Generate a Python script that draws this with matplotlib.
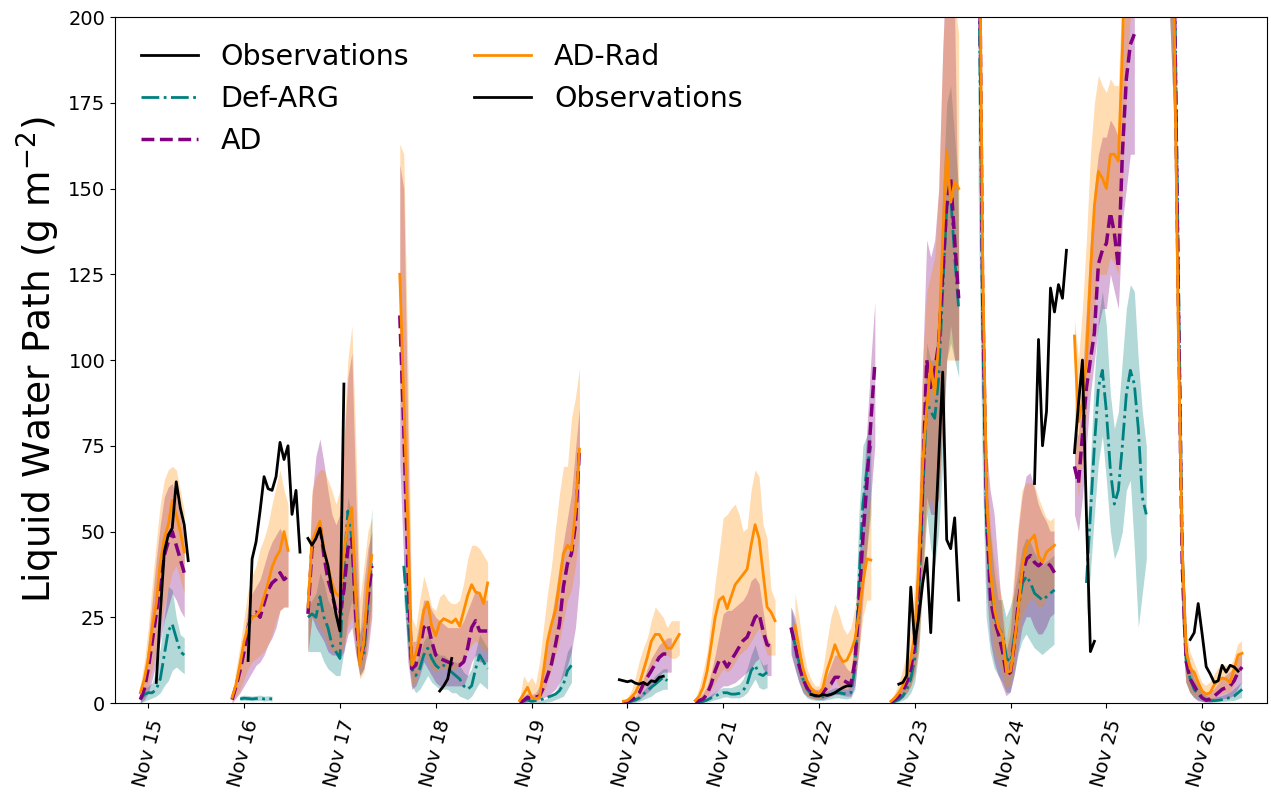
import numpy as np
import matplotlib
matplotlib.use("Agg")
import matplotlib.pyplot as plt
import matplotlib.dates as mdates
from matplotlib.lines import Line2D

# Forecast days (November), one block of hourly values per day
days = [15, 16, 17, 18, 19, 20, 21, 22, 23, 24, 25, 26]

# AD-Rad: start hour (relative to 00 UTC of the day), mean, lower, upper
adrad_t0 = [-2, -3, -8, -9, -3, -1, -7, -6, -6, -8, -8, -8]
adrad = [
    [3, 7, 13, 22, 29, 41, 48, 52, 59, 55, 50, 44],
    [1.7, 5.5, 11.4, 18, 22, 25, 25.5, 27, 31, 35, 39.6, 42.5, 44.5, 50, 44.5],
    [28, 47, 50, 53, 45, 40, 35, 32, 31, 44, 52, 57, 30, 11, 18, 35, 43],
    [125, 89, 53, 11, 14.3, 19, 27, 29.4, 22.4, 19.6, 23.4, 24.6, 24, 23.4, 24.5, 22.4, 26.8, 31.3, 34.5, 32.3, 32, 29, 35],
    [0.7, 2.6, 4.6, 1.7, 1.2, 1.7, 9.4, 18, 23, 27, 35, 43.5, 46, 44.5, 56, 74],
    [0.5, 0.7, 1.7, 3, 5.5, 9.4, 13.3, 18, 20, 20, 18, 16, 16, 18, 20],
    [0.7, 2, 4.6, 9.4, 17, 25, 30, 31, 27.5, 31, 34.5, 36, 37.5, 39, 46, 52, 48, 38, 28, 26.5, 24],
    [22.5, 16, 10, 6.5, 4.2, 3.2, 2.6, 4.5, 9.5, 13, 17, 14, 12, 12.5, 15, 18.5, 26, 35, 42, 41.7],
    [0.5, 1.5, 3, 5, 8, 13, 20, 40, 70, 86, 99, 90, 105, 135, 161, 146, 152, 150],
    [260, 130, 60, 38, 27, 22, 19.5, 9, 9.3, 18, 28, 40, 46, 47.6, 49, 43, 41, 44, 45, 46],
    [107, 82, 88, 100, 125, 145, 155, 153, 150, 160, 160, 158, 190, 230, 260, 270],
    [230, 200, 110, 45, 15, 10, 9, 6, 3.5, 2.6, 3, 5.3, 6.5, 7.3, 7, 6, 10, 14, 14.5],
]
adrad_lo = [
    [0.5, 2, 5, 10, 15, 22, 28, 33, 38, 40, 36, 32],
    [0.5, 2, 4, 7, 10, 12, 13, 14, 15, 17, 20, 24, 27, 28, 28],
    [15, 25, 24, 22, 20, 17, 15, 15, 14, 17, 22, 25, 15, 7, 9, 18, 27],
    [95, 55, 20, 5, 6, 10, 15, 12, 10, 9, 10, 10, 10, 10, 10, 11, 13, 15, 17, 18, 17, 15, 15],
    [0, 0.5, 1, 0.5, 0.5, 1, 3, 6, 10, 14, 18, 24, 30, 33, 40, 50],
    [0, 0, 0.5, 1, 2, 4, 7, 10, 12, 13, 14, 14, 13, 13, 14],
    [0, 0.3, 1, 2, 4, 6, 8, 10, 9, 10, 12, 14, 15, 16, 18, 20, 22, 18, 14, 14, 14],
    [14, 8, 4, 2, 1.5, 1, 1, 1.5, 3, 5, 7, 5, 4, 4, 5, 8, 15, 25, 30, 30],
    [0, 0.5, 1, 2, 3, 5, 8, 15, 35, 55, 60, 55, 60, 80, 100, 100, 100, 100],
    [200, 100, 45, 25, 15, 12, 8, 4, 5, 10, 18, 25, 28, 30, 30, 28, 28, 30, 32, 34],
    [70, 60, 70, 85, 100, 115, 125, 125, 125, 130, 128, 125, 150, 180, 200, 210],
    [200, 170, 80, 25, 6, 3, 2, 1.5, 1, 0.5, 0.5, 1, 2, 2.5, 3, 3, 5, 8, 10],
]
adrad_hi = [
    [5, 12, 22, 35, 47, 58, 65, 68, 69, 68, 62, 56],
    [2, 10, 17, 25, 33, 37, 40, 45, 48, 52, 58, 63, 68, 62, 58],
    [35, 62, 66, 68, 68, 65, 62, 58, 62, 80, 100, 110, 75, 30, 40, 50, 54],
    [163, 160, 100, 25, 22, 30, 37, 33, 28, 27, 31, 32, 30, 29, 29, 30, 35, 42, 46, 46, 45, 43, 41],
    [1, 8, 6, 7.5, 5.5, 12, 22, 32, 40, 51, 61, 69, 69, 83, 89, 97.6],
    [0.7, 1.7, 3.6, 7.5, 12.4, 16, 19, 24, 28, 26.5, 25, 22, 24, 24, 24],
    [1.2, 4.6, 9.4, 15, 25, 35, 44, 54, 55, 56.7, 58, 55, 50, 51, 62, 68, 66, 52, 48, 33, 30],
    [32, 25, 16, 10, 7, 5, 5, 10, 18, 25, 29, 26, 22, 20, 22, 28, 36, 45, 55, 60],
    [1, 3, 6, 10, 15, 22, 35, 60, 100, 120, 125, 130, 150, 190, 215, 215, 205, 195],
    [280, 150, 80, 52, 42, 35, 30, 18, 25, 38, 52, 62, 64, 64, 64, 60, 57, 54, 53, 54],
    [112, 100, 115, 135, 160, 175, 183, 180, 178, 182, 180, 180, 210, 240, 260, 270],
    [260, 230, 140, 60, 22, 15, 12, 9, 6, 5, 6, 8, 10, 11, 11, 10, 13, 17, 18],
]

# AD
ad_t0 = [-2, -3, -8, -9, -3, -1, -7, -7, -6, -8, -8, -8]
ad = [
    [1, 4, 10, 18, 26, 35, 43, 47, 50, 46, 42, 38],
    [1, 5, 9.5, 15, 22, 26, 26.5, 25, 29, 33, 35, 36, 38, 36, 37],
    [26, 45, 49, 52, 43, 36, 32, 27, 26, 33, 45, 48, 25, 12, 17, 30, 40],
    [113, 80, 40, 10, 11, 16, 22, 23, 18, 14, 13, 12.5, 12, 11.5, 11, 11, 12, 16, 22, 24, 21, 21, 21],
    [0.2, 0.7, 1.7, 1.2, 1.7, 2, 4.6, 8, 11.4, 17, 23, 34, 40.6, 43.5, 52, 73.7],
    [0.2, 0.5, 0.9, 1.7, 3, 5.5, 7.5, 9.4, 11.4, 13.3, 14.3, 14.3, 14.3],
    [0.3, 0.7, 1.2, 2.6, 5.5, 9.4, 12.4, 12.5, 10.5, 12.5, 14.3, 16.3, 18.2, 19.2, 22, 25, 26, 21, 17, 16.5],
    [22, 17, 11, 7, 4.5, 3.5, 3, 2.6, 3, 4.5, 5.5, 7.5, 7.5, 6.7, 6, 5.5, 12, 28, 48, 64, 82, 99],
    [0.3, 1, 2, 3.5, 6, 10, 17, 35, 65, 100, 92, 97, 105, 125, 145, 153, 135, 118],
    [250, 120, 55, 30, 24, 20, 15, 8, 9, 18, 30, 38, 42, 43, 41, 40, 41, 41, 40, 38],
    [69, 64, 78, 92, 100, 108, 128, 132, 134, 143, 137, 127, 160, 182, 192, 195],
    [240, 210, 120, 40, 12, 7, 5, 3, 1.5, 0.8, 1.2, 2, 3, 4, 4.5, 5, 6.5, 9, 10.5],
]
ad_lo = [
    [0, 1, 3, 7, 12, 18, 24, 28, 32, 30, 27, 25],
    [0, 1.5, 3, 5, 7, 9, 11, 12, 14, 17, 19, 22, 27, 28, 28],
    [15, 25, 22, 20, 18, 15, 14, 14, 13, 15, 20, 22, 14, 8, 10, 15, 25],
    [70, 40, 12, 4, 5, 8, 12, 10, 8, 6, 5, 5, 5, 5, 5, 5, 5, 8, 12, 14, 12, 12, 12],
    [0, 0, 0.5, 0.5, 0.5, 1, 1.5, 2, 3, 4, 6, 8, 11, 15, 22, 35],
    [0, 0, 0.3, 0.5, 1, 2, 3, 4, 6, 8, 9, 9, 9],
    [0, 0.1, 0.3, 0.8, 1.5, 3, 4, 5, 5, 5.5, 6, 7, 8, 9, 10, 12, 13, 10, 8, 8],
    [14, 10, 6, 3, 2, 1.5, 1.2, 1, 1, 1.5, 2, 2.5, 2.5, 2.2, 2, 2, 5, 15, 30, 45, 60, 75],
    [0, 0.3, 0.8, 1.5, 3, 5, 9, 18, 40, 60, 55, 55, 60, 80, 100, 110, 100, 100],
    [200, 90, 35, 18, 12, 8, 5, 2, 3, 8, 15, 22, 25, 25, 22, 20, 20, 22, 25, 26],
    [55, 50, 60, 75, 90, 100, 110, 115, 115, 125, 120, 115, 140, 150, 160, 160],
    [200, 170, 90, 25, 6, 3, 1.5, 0.5, 0.3, 0.1, 0.1, 0.3, 0.8, 1, 1.2, 1.5, 2, 4, 6],
]
ad_hi = [
    [2, 8, 18, 30, 42, 52, 60, 63, 64, 60, 55, 48],
    [2, 8, 14, 20, 28, 32, 34, 36, 40, 44, 47, 49, 51, 48, 45],
    [32, 60, 72, 77, 70, 62, 55, 52, 55, 75, 95, 102, 60, 20, 35, 45, 50],
    [157, 150, 80, 18, 18, 24, 30, 30, 27, 25, 24, 23, 22, 22, 22, 22, 24, 27, 30, 33, 32, 30, 30],
    [0.5, 2, 3, 2.5, 3, 5, 10, 17, 25, 32, 40, 47, 54, 61, 74, 86],
    [0.2, 0.5, 1, 2, 4, 7, 10, 13, 15, 17, 18, 19, 19],
    [0.6, 1.5, 3, 5, 9, 14, 20, 26, 27, 27, 28, 29, 30, 32, 35.7, 36.7, 34.8, 27, 19, 17],
    [28, 25, 18, 11, 7, 5, 4, 4, 5, 8, 11, 14, 14, 12, 10, 9, 20, 40, 60, 80, 100, 117],
    [0.8, 2, 4, 6, 10, 15, 25, 55, 100, 135, 130, 135, 150, 190, 220, 220, 200, 130],
    [270, 140, 75, 62, 55, 40, 26, 15, 20, 35, 50, 60, 66, 67, 63, 58, 55, 53, 50, 50],
    [80, 78, 95, 115, 135, 150, 160, 165, 165, 170, 168, 165, 190, 210, 215, 215],
    [260, 230, 140, 55, 18, 12, 9, 6, 3.5, 2.5, 3, 4, 5.5, 7, 8, 9, 10, 13, 15],
]

# Def-ARG
defarg_t0 = [-2, -1, -8, -8, -3, -1, -7, -7, -6, -8, -5, -8]
defarg = [
    [1, 2.5, 3, 3, 4, 7, 14, 21, 23, 19, 15, 14],
    [1.2, 1.4, 1.3, 1.2, 1.3, 1.4, 1.2, 1.3, 1.2],
    [25, 26, 25, 31, 25, 22, 17, 15, 13, 40, 56, 48, 30, 12, 14, 30, 42],
    [40, 25, 10, 8, 10, 14, 16, 13, 11, 10, 11, 10, 9, 8, 7, 5, 4, 5, 10, 14, 12, 10],
    [0.1, 0.7, 0.9, 0.5, 0.7, 0.9, 1.2, 1.7, 2.1, 2.6, 3.6, 5.5, 9.4, 11],
    [0.1, 0.2, 0.5, 0.9, 1.5, 2.6, 3.6, 4.6, 5.5, 6.5, 7.5, 6.5],
    [0.1, 0.2, 0.5, 0.9, 1.5, 2, 2.6, 3, 3, 2.6, 2.6, 2.8, 3.6, 5.5, 9.4, 11, 8.5, 8, 9],
    [22, 17, 12, 7, 4, 2.6, 2, 1.8, 1.8, 2.2, 2.5, 3, 3, 2.8, 2.6, 3, 10, 35, 58, 68, 75],
    [0.2, 0.5, 1, 2, 4, 7, 13, 30, 60, 88, 85, 83, 95, 120, 145, 148, 130, 115],
    [220, 110, 50, 35, 25, 22, 20, 13, 12, 20, 28, 35, 37, 35, 32, 31, 30, 31, 32, 33],
    [35, 55, 75, 92, 97, 85, 68, 58, 62, 75, 90, 97, 93, 80, 60, 55],
    [250, 220, 130, 45, 12, 7, 4, 2.5, 1.5, 1, 0.7, 0.7, 0.8, 1, 1.3, 1.6, 2, 3, 4],
]
defarg_lo = [
    [0, 0.5, 1, 1.5, 2, 3, 5, 6.5, 9.5, 10.5, 9.5, 8.5],
    [0.7, 0.8, 0.7, 0.6, 0.7, 0.8, 0.6, 0.7, 0.6],
    [15, 15, 15, 15, 12, 10, 9, 8, 8, 15, 25, 30, 15, 8, 10, 20, 30],
    [30, 15, 5, 3, 4, 6, 8, 6, 5, 4, 4, 4, 3, 3, 2, 1.5, 1, 2, 4, 6, 5, 4],
    [0, 0, 0, 0, 0, 0, 0.1, 0.3, 0.5, 1, 1.5, 2, 4, 6],
    [0, 0, 0, 0.2, 0.5, 1, 1.5, 2, 3, 3.5, 4, 4],
    [0, 0, 0.1, 0.3, 0.6, 1, 1.3, 1.7, 1.8, 1.5, 1.5, 1.5, 2, 3, 5, 7, 4.5, 4, 4.5],
    [15, 10, 6, 3, 1.5, 1, 0.8, 0.7, 0.7, 1, 1.2, 1.5, 1.5, 1.3, 1.2, 1.5, 4, 18, 35, 45, 55],
    [0, 0.1, 0.3, 0.8, 1.5, 3, 6, 15, 35, 55, 45, 40, 50, 70, 100, 105, 100, 95],
    [150, 70, 25, 15, 10, 8, 6, 3, 3, 8, 14, 18, 20, 18, 16, 15, 14, 15, 16, 17],
    [25, 38, 55, 70, 78, 65, 50, 42, 45, 50, 62, 65, 45, 22, 32, 42],
    [200, 170, 90, 25, 6, 3, 1.5, 0.8, 0.4, 0.2, 0.1, 0.1, 0.2, 0.3, 0.4, 0.5, 0.6, 1, 1.5],
]
defarg_hi = [
    [2, 4, 5, 6, 10, 16, 25, 34, 33, 25, 20, 19],
    [2.1, 2.3, 2.2, 2, 2.2, 2.3, 2, 2.1, 2],
    [28, 30, 32, 38, 35, 30, 28, 25, 25, 45, 60, 55, 40, 20, 25, 40, 57],
    [45, 35, 15, 12, 14, 18, 20, 18, 15, 14, 14, 13, 12, 12, 11, 9, 8, 10, 15, 20, 18, 16],
    [0.3, 0.5, 0.8, 0.5, 0.5, 0.8, 1, 1.5, 2, 3, 6, 10, 15, 17],
    [0.2, 0.3, 0.5, 1, 2, 3.5, 5, 6.5, 8, 9, 10, 10],
    [0.2, 0.5, 1, 1.5, 2.5, 3.2, 4, 4.5, 4.5, 4.5, 5, 5.5, 7, 10, 14, 17, 13, 11, 11.5],
    [28, 23, 16, 10, 6, 4, 3, 2.8, 2.8, 3.5, 4, 4.5, 4.5, 4.2, 4, 5, 20, 55, 75, 78, 80],
    [0.5, 1.5, 3, 5, 8, 12, 20, 45, 80, 105, 100, 100, 115, 150, 175, 180, 165, 150],
    [240, 130, 65, 50, 38, 30, 30, 25, 28, 32, 38, 45, 48, 47, 44, 42, 40, 41, 42, 43],
    [45, 70, 95, 112, 120, 110, 90, 80, 85, 100, 115, 122, 120, 100, 85, 75],
    [270, 240, 150, 60, 18, 11, 7, 5, 3, 2, 1.5, 1.5, 1.8, 2, 2.5, 3, 4, 5, 6],
]

# Observations (hourly)
obs_days = [15, 16, 17, 18, 20, 22, 23, 24, 25, 26]
obs_t0 = [2, 1, -8, 1, -2, -2, -4, 6, -8, -3]
obs = [
    [6, 26, 44, 49, 51, 64.5, 57, 52, 41.5],
    [12.4, 42, 47, 56, 66, 62.5, 62, 66, 76, 71, 75, 55, 62, 44],
    [48, 46, 48, 51, 44.5, 40, 33, 26, 21, 93],
    [3.5, 5, 7, 13],
    [6.8, 6.5, 6.2, 6.5, 5.8, 5.5, 6, 5.3, 6.5, 6.2, 7.5, 7.8],
    [2.5, 2.2, 2, 2.5, 2.2, 2.5, 3, 3.8, 4.5, 5, 5],
    [5.5, 6, 8, 33.8, 17.2, 25, 35, 42.3, 20.5, 46, 71, 96.5, 47.6, 45, 54, 30],
    [64, 106, 75, 85, 121, 114, 122, 118, 132],
    [73, 87, 100, 55, 15, 18],
    [18.5, 20.5, 29, 20, 10.6, 8.5, 6, 6.5, 11, 9, 11, 10.5, 9.3],
]


def hours(day, t0, n):
    start = np.datetime64(f"2018-11-{day:02d}T00") + np.timedelta64(t0, "h")
    return start + np.arange(n) * np.timedelta64(1, "h")


fig = plt.figure(figsize=(12.71, 7.96), dpi=100)
ax = fig.add_axes([0.0905, 0.1168, 0.9064, 0.8618])

models = [
    (defarg_t0, defarg, defarg_lo, defarg_hi, "teal", "-.", 2.0),
    (ad_t0, ad, ad_lo, ad_hi, "purple", "--", 2.5),
    (adrad_t0, adrad, adrad_lo, adrad_hi, "darkorange", "-", 2.0),
]

# Bands
for t0s, mean, lo, hi, col, ls, lw in models:
    for i, d in enumerate(days):
        t = hours(d, t0s[i], len(mean[i]))
        ax.fill_between(t, lo[i], hi[i], color=col, alpha=0.3, lw=0)

# Lines
for t0s, mean, lo, hi, col, ls, lw in models:
    for i, d in enumerate(days):
        t = hours(d, t0s[i], len(mean[i]))
        ax.plot(t, mean[i], color=col, ls=ls, lw=lw)

for i, d in enumerate(obs_days):
    t = hours(d, obs_t0[i], len(obs[i]))
    ax.plot(t, obs[i], color="k", lw=2)

ax.set_ylim(0, 200)
ax.set_xlim(np.datetime64("2018-11-14T15:40"), np.datetime64("2018-11-26T16:15"))
ax.xaxis.set_major_locator(mdates.DayLocator())
ax.xaxis.set_major_formatter(mdates.DateFormatter("%b %d"))
ax.tick_params(axis="x", labelsize=14, labelrotation=75, pad=7)
ax.tick_params(axis="y", labelsize=14)
ax.set_ylabel("Liquid Water Path (g m$^{-2}$)", fontsize=27)

handles = [
    Line2D([], [], color="k", lw=2),
    Line2D([], [], color="teal", ls="-.", lw=2),
    Line2D([], [], color="purple", ls="--", lw=2.5),
    Line2D([], [], color="darkorange", lw=2),
    Line2D([], [], color="k", lw=2),
]
labels = ["Observations", "Def-ARG", "AD", "AD-Rad", "Observations"]
ax.legend(handles, labels, ncol=2, loc="upper left", frameon=False,
          fontsize=20.5, columnspacing=2.3)

fig.savefig("out.png", dpi=100)
